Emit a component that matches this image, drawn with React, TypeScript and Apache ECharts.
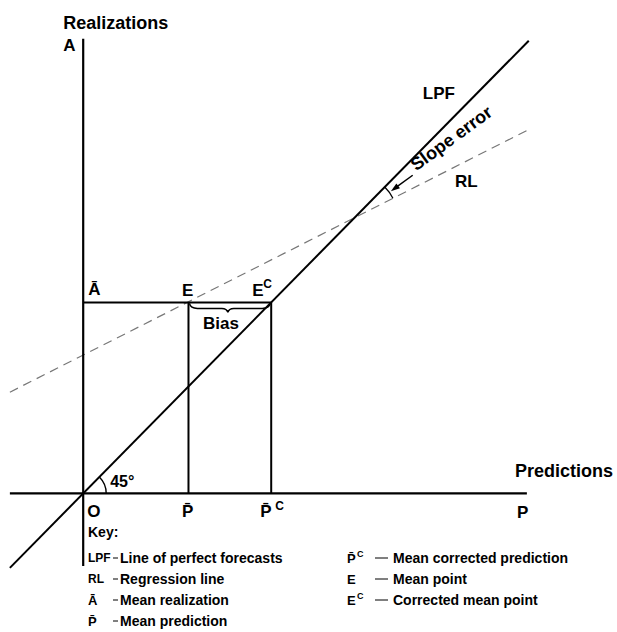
import React, { useEffect, useRef } from "react";
import * as echarts from "echarts";

// ---- data (diagram coordinates; origin O = (0,0), LPF is y = x) ----
const meanPrediction = 56; // P̄
const correctedPrediction = 100; // P̄c
const meanRealization = 100; // Ā
const predictionsAxis = [[-39, 0], [236, 0]];
const realizationsAxis = [[0, -38], [0, 238]];
const perfectForecastLine = [[-39, -39], [237, 237]];
const regressionLine = [[-39, 53], [238, 191]];
const meanRealizationLine = [[0, meanRealization], [correctedPrediction, meanRealization]];
const meanPredictionLine = [[meanPrediction, 0], [meanPrediction, meanRealization]];
const correctedPredictionLine = [[correctedPrediction, 0], [correctedPrediction, meanRealization]];

const keyLeft = [
  ["LPF", "", "Line of perfect forecasts"],
  ["RL", "", "Regression line"],
  ["\u0100", "", "Mean realization"],
  ["P\u0304", "", "Mean prediction"],
];
const keyRight = [
  ["P\u0304", "C", "Mean corrected prediction"],
  ["E", "", "Mean point"],
  ["E", "C", "Corrected mean point"],
];

const FF = "'Liberation Sans', Arial, Helvetica, sans-serif";
const bold = (s: number) => `bold ${s}px ${FF}`;

function intersect(a: number[][], b: number[][]) {
  const [x1, y1] = a[0], [x2, y2] = a[1], [x3, y3] = b[0], [x4, y4] = b[1];
  const d = (x1 - x2) * (y3 - y4) - (y1 - y2) * (x3 - x4);
  const t = ((x1 - x3) * (y3 - y4) - (y1 - y3) * (x3 - x4)) / d;
  return [x1 + t * (x2 - x1), y1 + t * (y2 - y1)];
}

export default function App() {
  const ref = useRef<HTMLDivElement>(null);
  useEffect(() => {
    if (!ref.current) return;
    const chart = echarts.init(ref.current, undefined, { renderer: "svg" });

    const lineSeries = (data: number[][], style: any) => ({
      type: "line",
      data,
      symbol: "none",
      silent: true,
      lineStyle: style,
      z: 2,
    });
    const solid = { color: "#000", width: 2 };

    const renderItem = (_params: any, api: any) => {
      const c = (p: number[]) => api.coord(p);
      const O = c([0, 0]);
      const E = c([meanPrediction, meanRealization]);
      const Ec = c([correctedPrediction, meanRealization]);
      const Abar = c([0, meanRealization]);
      const Pbar = c([meanPrediction, 0]);
      const Pc = c([correctedPrediction, 0]);
      const yTop = c(realizationsAxis[1]);
      const xEnd = c(predictionsAxis[1]);
      const lpfTop = c(perfectForecastLine[1]);
      const rlTop = c(regressionLine[1]);
      const X = c(intersect(perfectForecastLine, regressionLine));

      const children: any[] = [];
      const txt = (text: string, p: number[], dx: number, dy: number, size: number, extra: any = {}) =>
        children.push({
          type: "text",
          x: p[0] + dx,
          y: p[1] + dy,
          style: { text, font: bold(size), fill: "#000", align: "left", verticalAlign: "middle" },
          ...extra,
        });

      // 45° arc
      const angL = Math.atan2(lpfTop[1] - O[1], lpfTop[0] - O[0]);
      children.push({
        type: "arc",
        shape: { cx: O[0], cy: O[1], r: 23, startAngle: angL, endAngle: 0, clockwise: true },
        style: { stroke: "#000", lineWidth: 1.4, fill: "none" },
      });

      // slope error arc + arrow
      const aA = Math.atan2(lpfTop[1] - X[1], lpfTop[0] - X[0]);
      const aB = Math.atan2(rlTop[1] - X[1], rlTop[0] - X[0]);
      children.push({
        type: "arc",
        shape: { cx: X[0], cy: X[1], r: 43, startAngle: aA, endAngle: aB, clockwise: true },
        style: { stroke: "#000", lineWidth: 1.3, fill: "none" },
      });
      const m = (aA + aB) / 2;
      const cm = Math.cos(m), sm = Math.sin(m);
      const at = (r: number, off = 0) => [X[0] + r * cm + off * sm, X[1] + r * sm - off * cm];
      children.push({
        type: "line",
        shape: { x1: at(72)[0], y1: at(72)[1], x2: at(50)[0], y2: at(50)[1] },
        style: { stroke: "#000", lineWidth: 1.5 },
      });
      children.push({
        type: "polygon",
        shape: { points: [at(45), at(54, 3), at(54, -3)] },
        style: { fill: "#000" },
      });
      const tc = at(125, 7);
      children.push({
        type: "text",
        x: tc[0],
        y: tc[1],
        rotation: -m,
        style: { text: "Slope error", font: bold(18), fill: "#000", align: "center", verticalAlign: "middle" },
      });

      // Bias brace
      const y = E[1] + 1, x1 = E[0] + 1, x2 = Ec[0] - 1, mid = (x1 + x2) / 2 - 2;
      children.push({
        type: "path",
        shape: {
          pathData: `M${x1} ${y} Q${x1 + 1} ${y + 5} ${x1 + 8} ${y + 5} L${mid - 6} ${y + 5} Q${mid - 1} ${y + 5} ${mid} ${y + 9} Q${mid + 1} ${y + 5} ${mid + 6} ${y + 5} L${x2 - 8} ${y + 5} Q${x2 - 1} ${y + 5} ${x2} ${y}`,
        },
        style: { stroke: "#000", fill: "none", lineWidth: 1.5 },
      });

      // labels
      txt("Realizations", yTop, -20, -16, 18);
      txt("A", yTop, -20, 7, 17);
      txt("\u0100", Abar, 5, -13, 17);
      txt("E", E, -6.5, -12, 17);
      txt("E", Ec, -19, -12, 17);
      txt("C", Ec, -8, -18, 12);
      txt("Bias", E, 14.5, 21, 17);
      txt("45\u00b0", O, 27, -12, 16);
      txt("O", O, 4, 18, 17);
      txt("P\u0304", Pbar, -6.5, 18, 17);
      txt("P\u0304", Pc, -11, 18, 17);
      txt("C", Pc, 4, 12.5, 12);
      txt("Predictions", xEnd, -12, -22, 18);
      txt("P", xEnd, -10, 19, 17);
      txt("LPF", lpfTop, -106, 53, 17);
      txt("RL", rlTop, -75.6, 53, 17);

      return { type: "group", children };
    };

    // key
    const graphic: any[] = [];
    const gt = (text: string, x: number, y: number, size = 14) =>
      graphic.push({
        type: "text",
        x,
        y,
        style: { text, font: bold(size), fill: "#000", align: "left", verticalAlign: "middle" },
      });
    const dash = (x1: number, x2: number, y: number) =>
      graphic.push({ type: "line", shape: { x1, y1: y, x2, y2: y }, style: { stroke: "#000", lineWidth: 1 } });
    gt("Key:", 88, 532);
    keyLeft.forEach((k, i) => {
      const yy = 558 + i * 21;
      gt(k[0], 88, yy, k[0].length > 1 && k[0] !== "P\u0304" ? 12 : 13);
      dash(113, 118, yy);
      gt(k[2], 120, yy);
    });
    keyRight.forEach((k, i) => {
      const yy = 558 + i * 21;
      gt(k[0], 347, yy, 13);
      if (k[1]) gt(k[1], 357, yy - 4, 9);
      dash(375, 388, yy);
      gt(k[2], 393, yy);
    });

    chart.setOption({
      animation: false,
      grid: { left: 8, top: 35, width: 526.4, height: 534.8 },
      xAxis: { type: "value", min: -40, max: 240, show: false },
      yAxis: { type: "value", min: -40, max: 240, show: false },
      series: [
        lineSeries(regressionLine, { color: "#777", width: 1.2, type: [9, 6] }),
        lineSeries(predictionsAxis, { color: "#000", width: 2.2 }),
        lineSeries(realizationsAxis, { color: "#000", width: 2.2 }),
        lineSeries(perfectForecastLine, solid),
        lineSeries(meanRealizationLine, solid),
        lineSeries(meanPredictionLine, solid),
        lineSeries(correctedPredictionLine, solid),
        {
          type: "custom",
          data: [[0, 0]],
          renderItem,
          clip: false,
          silent: true,
          z: 5,
        },
      ],
      graphic,
    });
    return () => chart.dispose();
  }, []);
  return (
    <div
      ref={ref}
      style={{ position: "absolute", left: 0, top: 0, width: 617, height: 632, background: "#fff" }}
    />
  );
}
